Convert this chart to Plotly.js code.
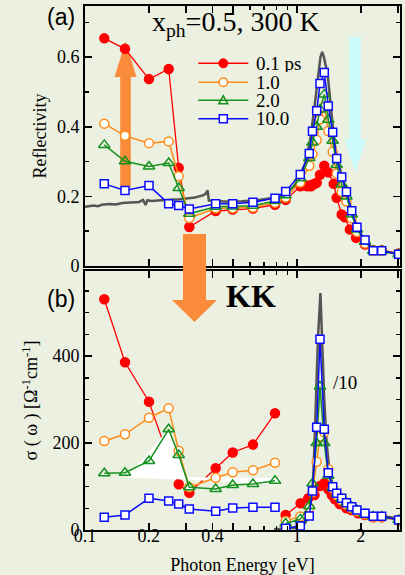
<!DOCTYPE html>
<html><head><meta charset="utf-8">
<script src="https://cdn.plot.ly/plotly-3.0.1.min.js"></script>
<style>html,body{margin:0;padding:0;background:#ecf0e0;} #chart{width:405px;height:575px;}</style>
</head><body><div id="chart"></div>
<script>
// ---------- data ----------
const energy = [0.1233,0.1544,0.2004,0.2482,0.2767,0.3105,0.4135,0.4975,0.6200,0.7875,0.8844,1.0365,1.1429,1.1834,1.2386,1.2839,1.3452,1.4050,1.4738,1.5392,1.6251,1.7120,1.8115,1.9187,2.0935,2.2899,2.5091,3.0180];
const seriesNames = ['0.1 ps','1.0','2.0','10.0'];

// (a) reflectivity
const reflRedLow = [0.654,0.624,0.537,0.566,0.282,0.112,0.158,0.162,0.165,0.176,0.190];
const redPeakEnergyR = [1.0365,1.097,1.12,1.143,1.165,1.19,1.21,1.2386,1.284,1.345,1.405,1.49,1.539,1.625,1.68,1.776,1.9,2.0935,2.29,2.509,3.018];
const reflRedPeak = [0.229,0.231,0.229,0.231,0.229,0.234,0.236,0.239,0.262,0.288,0.269,0.236,0.196,0.148,0.140,0.105,0.081,0.062,0.045,0.045,0.036];
const reflOrange = [0.409,0.374,0.353,0.358,0.258,0.138,0.166,0.166,0.168,0.182,0.197,0.240,0.288,0.322,0.362,0.421,0.457,0.388,0.328,0.266,0.213,0.185,0.137,0.098,0.065,0.044,0.044,0.034];
const reflGreen = [0.348,0.301,0.286,0.296,0.224,0.150,0.170,0.171,0.173,0.187,0.203,0.252,0.310,0.355,0.400,0.450,0.493,0.420,0.360,0.290,0.235,0.200,0.148,0.105,0.070,0.044,0.044,0.034];
const reflBlue = [0.236,0.217,0.231,0.179,0.174,0.164,0.179,0.179,0.183,0.195,0.214,0.263,0.323,0.387,0.446,0.524,0.556,0.460,0.384,0.309,0.256,0.213,0.159,0.111,0.075,0.044,0.044,0.034];
const grayEnergyR = [0.100,0.105,0.110,0.115,0.120,0.130,0.140,0.150,0.160,0.170,0.180,0.188,0.193,0.197,0.205,0.220,0.240,0.260,0.280,0.300,0.330,0.360,0.370,0.379,0.384,0.450,0.550,0.650,0.750,0.850,0.900,0.970,1.040,1.100,1.150,1.200,1.256,1.290,1.315,1.340,1.397,1.450,1.500,1.550,1.630,1.720,1.810,1.920,2.000,2.100,2.290,2.510,2.800,3.060];
const reflGray = [0.170,0.172,0.174,0.172,0.176,0.178,0.177,0.181,0.182,0.181,0.184,0.190,0.175,0.189,0.187,0.188,0.189,0.191,0.192,0.194,0.197,0.203,0.207,0.217,0.188,0.185,0.186,0.189,0.195,0.205,0.212,0.230,0.262,0.300,0.357,0.440,0.548,0.600,0.615,0.600,0.548,0.445,0.357,0.305,0.255,0.210,0.160,0.112,0.090,0.072,0.048,0.043,0.038,0.034];

// (b) conductivity (KK), first 10 points = far-IR segment, rest = peak segment
const sigmaRedLow = [530.8,385.9,295.2,165.7,105.2,85.8,142,178.3,196.5,268.5];
const redPeakEnergyS = [0.8844,1.04,1.13,1.21,1.284,1.345,1.405,1.46,1.51,1.59,1.71,1.81,1.94,2.09,2.29,2.51,3.03];
const sigmaRedPeak = [34.5,61.4,72.9,80.5,101.2,107.4,93.7,80.5,70.6,59.8,49.9,46,38.4,34.5,29.2,29.2,23];
const sigmaOrange = [204.8,220.2,258.4,280,182.5,98.3,120.3,132.8,137.4,154.9,21,31,51,87,157,215,225,140,96,80,68,58,50,43,36,30,30,22];
const sigmaGreen = [130.5,131.8,158.8,231.7,172.6,98.3,94.3,103.5,105.8,113.4,15,25,55,107,200,330,200,125,97,83,72,62,53,46,37,31,31,23];
const sigmaBlue = [29.2,34.5,72.9,66.7,59.8,48.3,43,50.6,52.2,52.2,3.9,9.2,32.2,89.7,236.3,438.8,231.7,131.8,99.6,84.4,72.9,62.8,53.6,46,38.4,31.5,31.5,23];
const grayEnergyS = [0.78,0.9,1.0,1.07,1.12,1.15,1.19,1.21,1.256,1.29,1.31,1.345,1.38,1.42,1.47,1.54,1.62,1.71,1.81,1.92,2.09,2.29,2.51,2.8,3.06];
const sigmaGray = [2,3,5,10,25,50,110,200,440,545,440,300,200,140,105,84,72,62,53,47,40,35,32,28,26];
const wedgeEnergy = [0.160,0.2472,0.2755,0.3018,0.8316,0.8316,0.3018,0.160];
const wedgeSigma = [124.3,231.7,172.6,121.3,119.7,103.5,116.2,119.7];

const xTickVals = [0.1,0.2,0.3,0.4,0.5,1,2,3];
const xTickText = ['0.1','0.2','','0.4','','1','2',''];
const xMinorVals = [0.6,0.7,0.8,0.9];

// ---------- style ----------
const SERIF = "'Liberation Serif', 'Times New Roman', Times, serif";
const SANS = "'Liberation Sans', Arial, sans-serif";
const BG = '#ecf0e0';
const C = {red:'#ff0000', orange:'#ff8c1a', green:'#14911e', blue:'#0a0aff', gray:'#555555'};
const nSplit = 10;
const withBreak = a => a.slice(0,nSplit).concat([null], a.slice(nSplit));

function styled(color, symbol, fill, size, lw) {
  return {mode:'lines+markers', line:{color:color, width:lw}, marker:{symbol:symbol, size:size, color:fill, line:{color:color, width:1.5}}, showlegend:false, hoverinfo:'skip'};
}
const sRed = () => styled(C.red,'circle',C.red,9,1.3);
const sOrange = () => styled(C.orange,'circle','white',9,1.5);
const sGreen = () => styled(C.green,'triangle-up-open',C.green,10,1.5);
const sBlue = () => styled(C.blue,'square','white',8,1.5);

const traces = [
  {x:grayEnergyR, y:reflGray, mode:'lines', line:{color:C.gray, width:2.5}, showlegend:false, hoverinfo:'skip', xaxis:'x', yaxis:'y'},
  Object.assign(sRed(), {name:seriesNames[0], x:energy.slice(0,11).concat(redPeakEnergyR), y:reflRedLow.concat(reflRedPeak), xaxis:'x', yaxis:'y'}),
  Object.assign(sOrange(), {name:seriesNames[1], x:energy, y:reflOrange, xaxis:'x', yaxis:'y'}),
  Object.assign(sGreen(), {name:seriesNames[2], x:energy, y:reflGreen, xaxis:'x', yaxis:'y'}),
  Object.assign(sBlue(), {name:seriesNames[3], x:energy, y:reflBlue, xaxis:'x', yaxis:'y'}),

  {x:grayEnergyS, y:sigmaGray, mode:'lines', line:{color:C.gray, width:2.5}, showlegend:false, hoverinfo:'skip', xaxis:'x2', yaxis:'y2'},
  Object.assign(sRed(), {x:energy.slice(0,nSplit).concat([null], redPeakEnergyS), y:sigmaRedLow.concat([null], sigmaRedPeak), xaxis:'x2', yaxis:'y2'}),
  {x:wedgeEnergy, y:wedgeSigma, mode:'lines', fill:'toself', fillcolor:'white', line:{width:0, color:'white'}, showlegend:false, hoverinfo:'skip', xaxis:'x2', yaxis:'y2'},
  Object.assign(sOrange(), {x:withBreak(energy), y:withBreak(sigmaOrange), xaxis:'x2', yaxis:'y2'}),
  Object.assign(sGreen(), {x:withBreak(energy), y:withBreak(sigmaGreen), xaxis:'x2', yaxis:'y2'}),
  Object.assign(sBlue(), {x:withBreak(energy), y:withBreak(sigmaBlue), xaxis:'x2', yaxis:'y2'})
];

// ---------- layout helpers (pixel -> paper) ----------
const PL=85, PR=400, PT=6, PB=530;
const fx = px => (px-PL)/(PR-PL);
const fy = py => (PB-py)/(PB-PT);
const poly = pts => 'M' + pts.map(p => fx(p[0]).toFixed(4)+','+fy(p[1]).toFixed(4)).join('L') + 'Z';

const shapes = [
  {type:'path', xref:'paper', yref:'paper', layer:'below', fillcolor:'#f98b3a', line:{width:0},
   path: poly([[120.2,186.7],[120.2,77],[114.5,77],[125.5,41.5],[136.5,77],[130.8,77],[130.8,186.7]])},
  {type:'path', xref:'paper', yref:'paper', layer:'below', fillcolor:'#cdfafa', line:{width:0},
   path: poly([[349,36.7],[361,36.7],[361,139.3],[366,139.3],[355.3,173.3],[344.5,139.3],[349,139.3]])},
  {type:'path', xref:'paper', yref:'paper', layer:'above', fillcolor:'#f98b3a', line:{width:0},
   path: poly([[183,234],[206,234],[206,300],[217,300],[194.5,322],[172,300],[183,300]])}
];
// manual legend samples
const legRows = [63.3, 82.3, 100.3, 118.8];
const legCols = [C.red, C.orange, C.green, C.blue];
legRows.forEach((ry, i) => {
  shapes.push({type:'line', xref:'paper', yref:'paper', x0:fx(198.3), x1:fx(248.3), y0:fy(ry), y1:fy(ry), line:{color:legCols[i], width:1.5}});
});
const mx = 223.3;
shapes.push({type:'circle', xref:'paper', yref:'paper', x0:fx(mx-4.5), x1:fx(mx+4.5), y0:fy(legRows[0]+4.5), y1:fy(legRows[0]-4.5), fillcolor:C.red, line:{color:C.red, width:1}});
shapes.push({type:'circle', xref:'paper', yref:'paper', x0:fx(mx-4.3), x1:fx(mx+4.3), y0:fy(legRows[1]+4.3), y1:fy(legRows[1]-4.3), fillcolor:'white', line:{color:C.orange, width:1.5}});
shapes.push({type:'path', xref:'paper', yref:'paper', fillcolor:'rgba(0,0,0,0)', line:{color:C.green, width:1.5},
  path: poly([[mx-4.5,legRows[2]+3.5],[mx+4.5,legRows[2]+3.5],[mx,legRows[2]-4.5]])});
shapes.push({type:'rect', xref:'paper', yref:'paper', x0:fx(mx-4), x1:fx(mx+4), y0:fy(legRows[3]+4), y1:fy(legRows[3]-4), fillcolor:'white', line:{color:C.blue, width:1.5}});

const ann = (text, px, py, size, opts) => Object.assign({text:text, xref:'paper', yref:'paper', x:fx(px), y:fy(py), showarrow:false, xanchor:'left', yanchor:'middle', font:{family:SERIF, size:size, color:'black'}}, opts||{});
const annotations = [
  ann('(a)', 60.5, 17.5, 23, {xanchor:'center', font:{family:SANS, size:23, color:'black'}}),
  ann('(b)', 60.5, 299, 23, {xanchor:'center', font:{family:SANS, size:23, color:'black'}}),
  ann('x<sub>ph</sub>=0.5, 300 K', 150, 23, 28),
  ann('<b>KK</b>', 251, 296, 32, {xanchor:'center'}),
  ann('/10', 331, 382, 19)
];
seriesNames.forEach((nm, i) => annotations.push(ann(nm, 254, legRows[i], 19, {height:17, valign:'middle'})));

const axisCommon = {showline:true, linecolor:'black', linewidth:2, mirror:'allticks', ticks:'inside', ticklen:7, tickwidth:1.5, tickcolor:'black', showgrid:false, zeroline:false, fixedrange:true, tickfont:{family:SERIF, size:18, color:'black'}};
const minorCommon = {ticks:'inside', ticklen:4, tickwidth:1.5, tickcolor:'black', showgrid:false};

const layout = {
  width:405, height:575,
  margin:{l:PL, r:405-PR, t:PT, b:575-PB},
  paper_bgcolor:BG, plot_bgcolor:'rgba(0,0,0,0)',
  showlegend:false,
  xaxis: Object.assign({}, axisCommon, {type:'log', range:[-1,0.486], domain:[0,1], anchor:'y', tickmode:'array', tickvals:xTickVals, ticktext:xTickText, showticklabels:false, minor:Object.assign({tickmode:'array', tickvals:xMinorVals}, minorCommon)}),
  yaxis: Object.assign({}, axisCommon, {range:[0,0.747], domain:[0.5038,1], anchor:'x', tickmode:'array', tickvals:[0,0.2,0.4,0.6], ticktext:['0','0.2','0.4','0.6'], minor:Object.assign({tickmode:'array', tickvals:[0.1,0.3,0.5,0.7]}, minorCommon), title:{text:'Reflectivity', font:{family:SERIF, size:18, color:'black'}, standoff:6}}),
  xaxis2: Object.assign({}, axisCommon, {type:'log', range:[-1,0.486], domain:[0,1], anchor:'y2', tickmode:'array', tickvals:xTickVals, ticktext:xTickText, ticklabelstandoff:-12, minor:Object.assign({tickmode:'array', tickvals:xMinorVals}, minorCommon), title:{text:'Photon Energy [eV]', font:{family:SERIF, size:18, color:'black'}, standoff:17}}),
  yaxis2: Object.assign({}, axisCommon, {range:[0,596], domain:[0,0.4943], anchor:'x2', tickmode:'array', tickvals:[0,200,400], ticktext:['0','200','400'], minor:Object.assign({tickmode:'array', tickvals:[50,100,150,250,300,350,450,500,550]}, minorCommon), title:{text:'σ ( ω ) [Ω<sup>-1</sup>cm<sup>-1</sup>]', font:{family:SERIF, size:18, color:'black'}, standoff:10}}),
  shapes:shapes,
  annotations:annotations
};

Plotly.newPlot('chart', traces, layout, {staticPlot:true, displayModeBar:false});
</script></body></html>
